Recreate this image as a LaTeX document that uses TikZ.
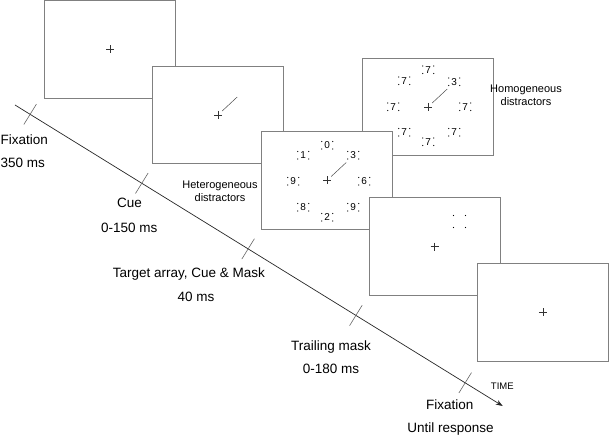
\documentclass[tikz,border=0pt]{standalone}
\usepackage{fontspec}
\setmainfont{Liberation Sans}
\usetikzlibrary{calc,arrows.meta}
\begin{document}
\begin{tikzpicture}[x=1pt,y=-1pt,
  screen/.style={draw=black!50,line width=0.9pt,fill=white,minimum width=131pt,minimum height=97.5pt,inner sep=0pt,outer sep=0pt},
  lab/.style={font=\fontsize{13.5}{14}\selectfont,inner sep=0pt},
  dlab/.style={font=\fontsize{11}{13.4}\selectfont,align=center,inner sep=0pt},
  digit/.style={font=\fontsize{10}{10}\selectfont,inner sep=0pt},
  crossln/.style={draw=black!80,line width=0.6pt},
  cueln/.style={draw=black!70,line width=0.5pt},
  tick/.style={draw=black!60,line width=0.6pt},
  cl/.pic={\node[digit] (d) at (0,0) {#1};
    \fill (-5.5,-4) circle (0.65) (-5.5,3.5) circle (0.65) (5.5,-4) circle (0.65) (5.5,3.5) circle (0.65);},
  maskdots/.pic={\fill (-6,-6) circle (0.7) (-6,6) circle (0.7) (6,-6) circle (0.7) (6,6) circle (0.7);}
]
\useasboundingbox (0,0) rectangle (609,438);
% screens (drawing order matters)
\node[screen] (s1) at (110.2,49.5) {};
\node[screen] (s2) at (218.2,115) {};
\node[screen] (s4) at (428.2,107) {};
\node[screen] (s3) at (327.2,180.5) {};
\node[screen] (s5) at (434.5,246.5) {};
\node[screen] (s6) at (542.8,312.3) {};
% fixation crosses
\foreach \s in {s1,s2,s3,s4,s5,s6}{
  \draw[crossln] ($(\s.center)+(-4,0)$) -- ($(\s.center)+(4,0)$);
  \draw[crossln] ($(\s.center)+(0,-4)$) -- ($(\s.center)+(0,4)$);
}
% cue lines
\foreach \s in {s2,s3,s4}{
  \draw[cueln] ($(\s.center)+(4,-4)$) -- ($(\s.center)+(19,-18)$);
}
% heterogeneous array
\path (s3.center)
  +(0,-35) pic {cl=0}
  +(-24,-25) pic {cl=1}
  +(26,-25) pic {cl=3}
  +(-34,1) pic {cl=9}
  +(37,1) pic {cl=6}
  +(-24,27) pic {cl=8}
  +(0,37) pic {cl=2}
  +(26,27) pic {cl=9};
% homogeneous array
\path (s4.center)
  +(0,-37) pic {cl=7}
  +(-24,-26) pic {cl=7}
  +(26,-25) pic {cl=3}
  +(-35,0) pic {cl=7}
  +(37,0) pic {cl=7}
  +(-24,25.5) pic {cl=7}
  +(0,35) pic {cl=7}
  +(26,25.5) pic {cl=7};
% trailing mask
\path (s5.center) +(25,-25) pic {maskdots};
% distractor labels
\node[dlab] (het) at (220,191) {Heterogeneous\\distractors};
\node[dlab] (hom) at (526,95) {Homogeneous\\distractors};
% timeline
\coordinate (ts) at (15,105);
\coordinate (te) at (502.7,406);
\draw[black!85,line width=0.7pt,-{Stealth[length=7pt,width=5pt]}] (ts) -- (te);
\foreach \t in {0.031,0.26,0.478,0.699,0.923}{
  \coordinate (p) at ($(ts)!\t!(te)$);
  \draw[tick] ($(p)!12pt!90:(te)$) -- ($(p)!12pt!-90:(te)$);
}
% labels
\node[lab,anchor=west] (l1a) at (0.5,140) {Fixation};
\node[lab,anchor=west] (l1b) at (0.5,163) {350 ms};
\node[lab] (l2a) at (129.6,203) {Cue};
\node[lab] (l2b) at (129.3,228) {0-150 ms};
\node[lab,anchor=west] (l3a) at (112.7,274) {Target array, Cue \& Mask};
\node[lab] (l3b) at (196,297) {40 ms};
\node[lab] (l4a) at (331,347.3) {Trailing mask};
\node[lab] (l4b) at (331,369) {0-180 ms};
\node[lab] (l5a) at (449.7,405) {Fixation};
\node[lab] (l5b) at (450.5,429) {Until response};
\node[font=\fontsize{9.5}{10}\selectfont,inner sep=0pt] (time) at (502.3,386) {TIME};
\end{tikzpicture}
\end{document}
